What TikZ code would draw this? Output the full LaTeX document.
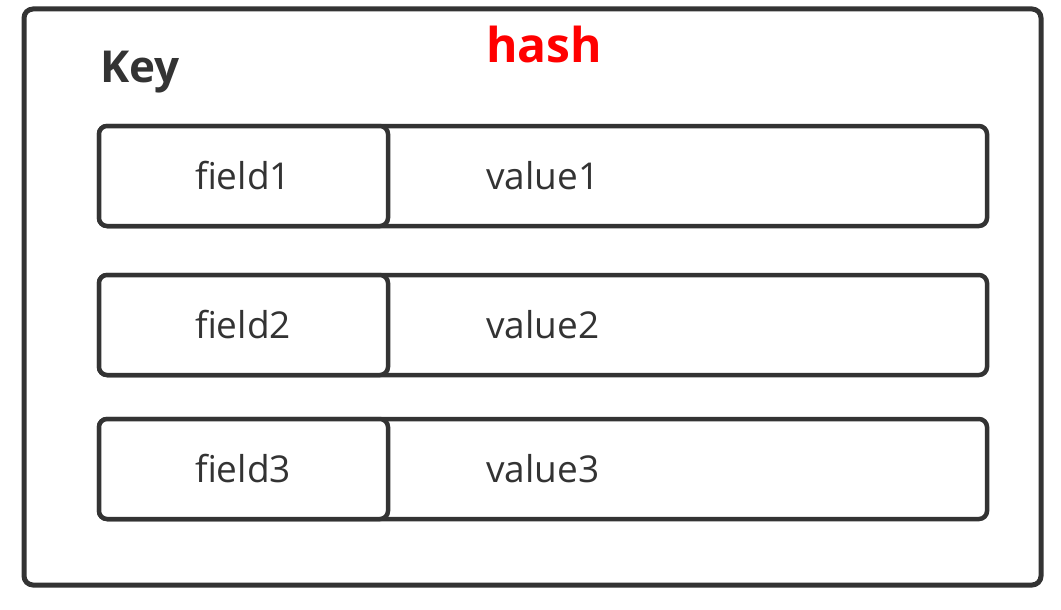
\documentclass[tikz,border=0pt]{standalone}
\usepackage{fontspec}
\setmainfont{Open Sans}
\definecolor{ink}{RGB}{51,51,51}
\definecolor{hashred}{RGB}{255,0,0}
\begin{document}
\begin{tikzpicture}[x=1pt,y=-1pt,
  outerbox/.style={draw=ink,line width=5pt,rounded corners=9pt,outer sep=0pt},
  rowbox/.style={draw=ink,line width=4.5pt,rounded corners=8pt,fill=white,anchor=north west,inner sep=0pt,outer sep=0pt,minimum height=100pt},
  lbl/.style={text=ink,font=\fontsize{37}{40}\selectfont,anchor=base,inner sep=0pt},
  title/.style={font=\bfseries\fontsize{48}{54}\selectfont,text=hashred,anchor=base,inner sep=0pt},
  keylbl/.style={font=\bfseries\fontsize{44}{50}\selectfont,text=ink,anchor=base west,inner sep=0pt}]
\useasboundingbox (0,0) rectangle (1061,610);
\node[outerbox,anchor=north west,inner sep=0pt,minimum width=1017pt,minimum height=576pt] (outer) at (24,9) {};
\node[title] (hash) at (544,63) {hash};
\node[keylbl] (key) at (100,83) {Key};
% rows
\foreach \i/\y in {1/126,2/275,3/419}{
  \node[rowbox,minimum width=888pt] (row\i) at (99,\y) {};
  \node[rowbox,minimum width=289pt] (field\i) at (99,\y) {};
  \node[lbl] (ft\i) at (243,\y+63) {field\i};
  \node[lbl] (vt\i) at (543,\y+63) {value\i};
}
\end{tikzpicture}
\end{document}
